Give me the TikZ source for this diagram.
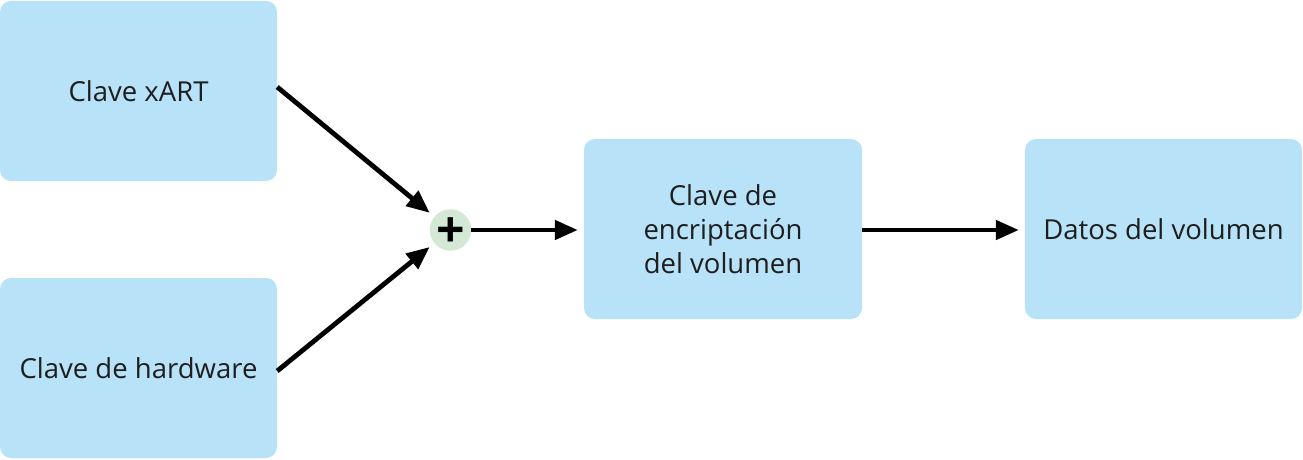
\documentclass[tikz,border=0pt]{standalone}
\usepackage{fontspec}
\setmainfont{Open Sans}
\usetikzlibrary{arrows.meta}
\definecolor{boxblue}{HTML}{B8E2F8}
\definecolor{plusgreen}{HTML}{D3E9D6}
\definecolor{txt}{HTML}{1E1E1E}
\tikzset{
  box/.style={fill=boxblue, rounded corners=11pt, minimum width=277pt, minimum height=180pt,
    inner sep=0pt, align=center, text=txt, font=\fontsize{27.5}{34}\selectfont},
  conn/.style={line width=4.8pt, -{Triangle[length=23pt,width=19pt]}},
  plusnode/.style={circle, fill=plusgreen, minimum size=41.5pt, inner sep=0pt},
  plussign/.style={text=black, font=\fontsize{50}{50}\bfseries\selectfont, inner sep=0pt}
}
\begin{document}
\begin{tikzpicture}[x=1pt,y=-1pt]
\useasboundingbox (0,0) rectangle (1303,460);
\node[box] (a) at (138.5,91) {Clave xART};
\node[box] (b) at (138.5,368) {Clave de hardware};
\node[plusnode] (p) at (450.5,230) {};
\node[plussign, yshift=-3pt] (pt) at (p.center) {+};
\node[box, minimum width=278pt] (c) at (723,229) {Clave de\\encriptación\\del volumen};
\node[box] (d) at (1163.5,229) {Datos del volumen};
\draw[conn, shorten >=6pt] ([yshift=4pt]a.east) -- (p);
\draw[conn, shorten >=6pt] ([yshift=-3pt]b.east) -- (p);
\draw[conn, shorten >=6pt] (p) -- (p -| c.west);
\draw[conn, shorten >=6pt] (c.east |- p) -- (p -| d.west);
\end{tikzpicture}
\end{document}
